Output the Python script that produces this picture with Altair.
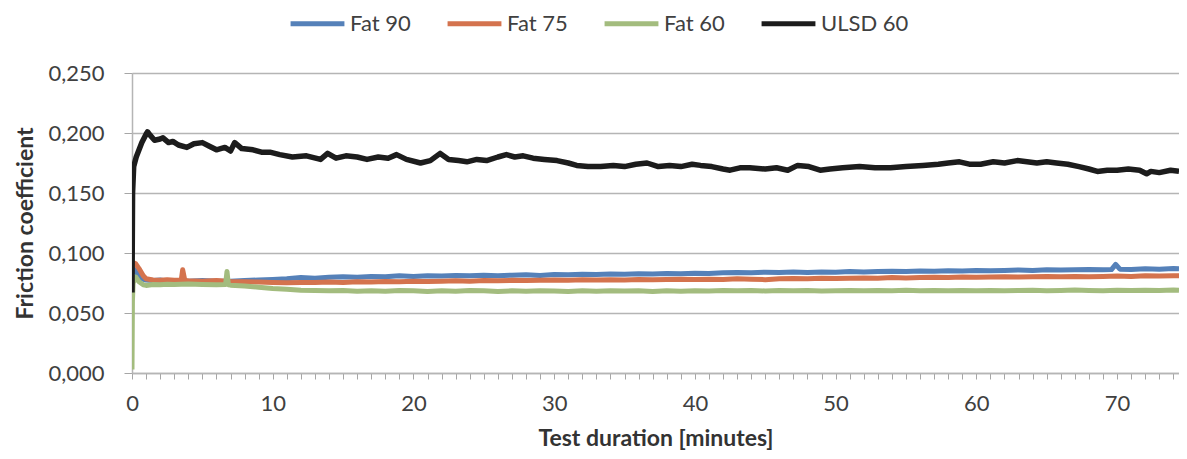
import altair as alt
import pandas as pd

series_names = ["Fat 90", "Fat 75", "Fat 60", "ULSD 60"]
series_colors = ["#5581B9", "#D4734E", "#A3BC7E", "#1C1C1C"]

y_ticks = [0.0, 0.05, 0.10, 0.15, 0.20, 0.25]
x_ticks = list(range(0, 75))

fat90_t = [0, 0.1, 0.26, 0.5, 0.8, 1, 1.5, 2, 2.5, 3, 4, 5, 6, 7, 8, 9, 10, 11, 12, 13, 14,
           15, 16, 17, 18, 19, 20, 21, 22, 23, 24, 25, 26, 27, 28, 29, 30, 31, 32, 33, 34,
           35, 36, 37, 38, 39, 40, 41, 42, 43, 44, 45, 46, 47, 48, 49, 50, 51, 52, 53, 54,
           55, 56, 57, 58, 59, 60, 61, 62, 63, 64, 65, 66, 67, 68, 69, 69.6, 69.9, 70.2,
           71, 72, 73, 74, 74.4]
fat90_v = [0.088, 0.087, 0.0845, 0.081, 0.078, 0.0775, 0.077, 0.0775, 0.0765, 0.077, 0.0765,
           0.077, 0.0765, 0.0765, 0.077, 0.0775, 0.078, 0.0785, 0.0795, 0.079, 0.0798,
           0.0802, 0.0798, 0.0805, 0.0802, 0.081, 0.0805, 0.081, 0.0808, 0.0812, 0.081,
           0.0815, 0.081, 0.0815, 0.0818, 0.0812, 0.082, 0.0818, 0.0822, 0.082, 0.0825,
           0.0822, 0.0828, 0.0825, 0.083, 0.0828, 0.0832, 0.083, 0.0835, 0.0838, 0.0835,
           0.084, 0.0838, 0.0842, 0.0838, 0.0842, 0.084, 0.0845, 0.0842, 0.0845, 0.0848,
           0.0845, 0.085, 0.0848, 0.0852, 0.085, 0.0855, 0.0852, 0.0855, 0.0858, 0.0855,
           0.086, 0.0858, 0.086, 0.0862, 0.086, 0.0862, 0.0905, 0.0865, 0.0862, 0.0868,
           0.0865, 0.087, 0.0868]

fat75_t = [0, 0.1, 0.26, 0.5, 0.8, 1, 1.5, 2, 2.5, 3, 3.5, 3.6, 3.75, 4, 5, 6, 7, 8, 9, 10,
           11, 12, 13, 14, 15, 16, 17, 18, 19, 20, 21, 22, 23, 24, 25, 26, 27, 28, 29, 30,
           31, 32, 33, 34, 35, 36, 37, 38, 39, 40, 41, 42, 43, 44, 45, 46, 47, 48, 49, 50,
           51, 52, 53, 54, 55, 56, 57, 58, 59, 60, 61, 62, 63, 64, 65, 66, 67, 68, 69, 70,
           71, 72, 73, 74, 74.4]
fat75_v = [0.093, 0.092, 0.091, 0.087, 0.081, 0.0785, 0.0775, 0.0772, 0.0778, 0.0772, 0.0775,
           0.086, 0.0772, 0.0768, 0.0765, 0.077, 0.0762, 0.076, 0.0758, 0.0755, 0.0752,
           0.0755, 0.0755, 0.0758, 0.0755, 0.076, 0.0758, 0.0762, 0.076, 0.0765, 0.0762,
           0.0765, 0.0768, 0.0765, 0.077, 0.0768, 0.0772, 0.077, 0.0772, 0.0775, 0.0772,
           0.0778, 0.0775, 0.0778, 0.0775, 0.078, 0.0778, 0.078, 0.0782, 0.078, 0.0782,
           0.078, 0.0785, 0.0782, 0.0778, 0.0785, 0.0788, 0.0785, 0.079, 0.0788, 0.079,
           0.0792, 0.079, 0.0795, 0.0792, 0.0795, 0.0798, 0.0795, 0.08, 0.0798, 0.08,
           0.0802, 0.08, 0.0802, 0.0805, 0.0802, 0.0805, 0.0802, 0.0805, 0.0808, 0.0805,
           0.081, 0.0808, 0.081, 0.081]

fat60_t = [0, 0.03, 0.08, 0.26, 0.5, 0.8, 1, 1.5, 2, 2.5, 3, 4, 5, 6, 6.65, 6.75, 6.85, 7, 8,
           9, 10, 11, 12, 13, 14, 15, 16, 17, 18, 19, 20, 21, 22, 23, 24, 25, 26, 27, 28,
           29, 30, 31, 32, 33, 34, 35, 36, 37, 38, 39, 40, 41, 42, 43, 44, 45, 46, 47, 48,
           49, 50, 51, 52, 53, 54, 55, 56, 57, 58, 59, 60, 61, 62, 63, 64, 65, 66, 67, 68,
           69, 70, 71, 72, 73, 74, 74.4]
fat60_v = [0.003, 0.060, 0.075, 0.080, 0.076, 0.0735, 0.073, 0.0738, 0.0735, 0.074, 0.0738,
           0.0742, 0.0738, 0.0735, 0.0738, 0.0845, 0.0735, 0.0732, 0.0725, 0.0715, 0.0705,
           0.0698, 0.069, 0.0688, 0.0685, 0.0688, 0.0682, 0.0685, 0.0682, 0.0688, 0.0685,
           0.068, 0.0685, 0.0682, 0.0688, 0.0685, 0.068, 0.0685, 0.0682, 0.0686, 0.0683,
           0.068, 0.0685, 0.0682, 0.0686, 0.0683, 0.0685, 0.068, 0.0685, 0.0682, 0.0686,
           0.0684, 0.0688, 0.0685, 0.0688, 0.0684, 0.0688, 0.0685, 0.0688, 0.0684, 0.0686,
           0.0688, 0.0685, 0.0688, 0.0686, 0.069, 0.0686, 0.0688, 0.0685, 0.0688, 0.0686,
           0.0688, 0.0685, 0.0688, 0.069, 0.0686, 0.0688, 0.0692, 0.0688, 0.0686, 0.069,
           0.0688, 0.069, 0.0688, 0.0692, 0.069]

ulsd60_t = [0, 0.04, 0.12, 0.3, 0.5, 0.7, 1.0, 1.1, 1.3, 1.6, 2.0, 2.2, 2.6, 2.9, 3.3, 3.9,
            4.4, 5.0, 5.5, 6.0, 6.6, 7.0, 7.3, 7.8, 8.6, 9.2, 9.8, 10.5, 11.4, 12.4, 13.4,
            13.9, 14.5, 15.2, 16, 16.7, 17.5, 18.2, 18.8, 19.5, 20.5, 21.2, 21.9, 22.5, 23.2,
            23.8, 24.5, 25.2, 26, 26.6, 27.2, 27.8, 28.5, 29.3, 30.2, 31, 31.6, 32.4, 33.3,
            34.2, 35, 35.8, 36.6, 37.4, 38.2, 39, 39.8, 40.4, 41.2, 42, 42.5, 43.2, 43.9, 45,
            45.8, 46.6, 47.3, 48.1, 48.9, 49.6, 50.5, 51.7, 52.8, 53.9, 55, 56.2, 57.3, 58,
            58.8, 59.5, 60.3, 61.2, 62, 62.9, 63.6, 64.3, 65, 65.7, 66.5, 67.3, 68, 68.6,
            69.3, 70, 70.8, 71.6, 72.1, 72.4, 73, 73.8, 74.4]
ulsd60_v = [0.067, 0.150, 0.172, 0.180, 0.186, 0.192, 0.199, 0.201, 0.198, 0.194, 0.195, 0.196,
            0.192, 0.193, 0.190, 0.188, 0.191, 0.192, 0.189, 0.186, 0.188, 0.185, 0.192,
            0.187, 0.186, 0.184, 0.184, 0.182, 0.180, 0.181, 0.178, 0.183, 0.179, 0.181,
            0.180, 0.178, 0.180, 0.179, 0.182, 0.178, 0.175, 0.177, 0.183, 0.178, 0.177,
            0.176, 0.178, 0.177, 0.180, 0.182, 0.180, 0.181, 0.179, 0.178, 0.177, 0.175,
            0.173, 0.172, 0.172, 0.173, 0.172, 0.174, 0.175, 0.172, 0.173, 0.172, 0.174,
            0.173, 0.172, 0.170, 0.169, 0.171, 0.171, 0.170, 0.171, 0.169, 0.173, 0.172,
            0.169, 0.170, 0.171, 0.172, 0.171, 0.171, 0.172, 0.173, 0.174, 0.175, 0.176,
            0.174, 0.174, 0.176, 0.175, 0.177, 0.176, 0.175, 0.176, 0.175, 0.174, 0.172,
            0.170, 0.168, 0.169, 0.169, 0.170, 0.169, 0.166, 0.168, 0.167, 0.169, 0.168]

series_data = [
    ("Fat 90", fat90_t, fat90_v),
    ("Fat 75", fat75_t, fat75_v),
    ("Fat 60", fat60_t, fat60_v),
    ("ULSD 60", ulsd60_t, ulsd60_v),
]

rows = []
for name, ts, vs in series_data:
    for t, v in zip(ts, vs):
        rows.append({"t": t, "f": v, "series": name})
df = pd.DataFrame(rows)

FONT = "Lato"
LABEL_COLOR = "#404040"
GRID = "#b5b5b5"

x_enc = alt.X(
    "t:Q",
    scale=alt.Scale(domain=[0, 74.4], nice=False, zero=False),
    axis=alt.Axis(
        title="Test duration [minutes]",
        values=x_ticks,
        labelExpr="datum.value % 10 === 0 ? datum.label : ''",
        labelOverlap=False,
        labelFlush=False,
        grid=False,
        tickSize=6,
        tickColor="#a6a6a6",
        domainColor=GRID,
        domainWidth=1.5,
        labelPadding=14,
        labelFontSize=22,
        labelColor=LABEL_COLOR,
        labelFont=FONT,
        titleFont=FONT,
        titleFontSize=23,
        titleFontWeight="bold",
        titleColor="#333333",
        titlePadding=13,
    ),
)

y_enc = alt.Y(
    "f:Q",
    scale=alt.Scale(domain=[0, 0.25], nice=False),
    axis=alt.Axis(
        title="Friction coefficient",
        values=y_ticks,
        labelExpr="replace(format(datum.value, '.3f'), '.', ',')",
        grid=True,
        gridColor=GRID,
        gridWidth=1.4,
        tickSize=8,
        tickColor="#a6a6a6",
        domainColor=GRID,
        domainWidth=1.5,
        labelPadding=20,
        labelFontSize=22,
        labelColor=LABEL_COLOR,
        labelFont=FONT,
        titleFont=FONT,
        titleFontSize=23,
        titleFontWeight="bold",
        titleColor="#333333",
        titlePadding=10,
    ),
)

color_enc = alt.Color(
    "series:N",
    scale=alt.Scale(domain=series_names, range=series_colors),
    legend=alt.Legend(
        title=None,
        orient="none",
        direction="horizontal",
        legendX=156,
        legendY=-79,
        symbolType="stroke",
        symbolSize=2900,
        symbolStrokeWidth=5,
        labelFont=FONT,
        labelFontSize=22,
        labelColor=LABEL_COLOR,
        labelOffset=3,
        columnPadding=26,
    ),
)

layers = []
for name in series_names:
    sw = 5.5 if name == "ULSD 60" else 5
    layers.append(
        alt.Chart(df)
        .transform_filter(alt.datum.series == name)
        .mark_line(strokeWidth=sw, clip=True, strokeJoin="round")
        .encode(x=x_enc, y=y_enc, color=color_enc)
    )

chart = (
    alt.layer(*layers)
    .properties(
        width=1047,
        height=300,
        autosize=alt.AutoSizeParams(type="none"),
        padding={"left": 124, "top": 65, "right": 0, "bottom": 78},
    )
    .configure_view(stroke=None)
    .configure(background="white")
)

chart.save("out.html", embed_options={"renderer": "svg", "actions": False})
